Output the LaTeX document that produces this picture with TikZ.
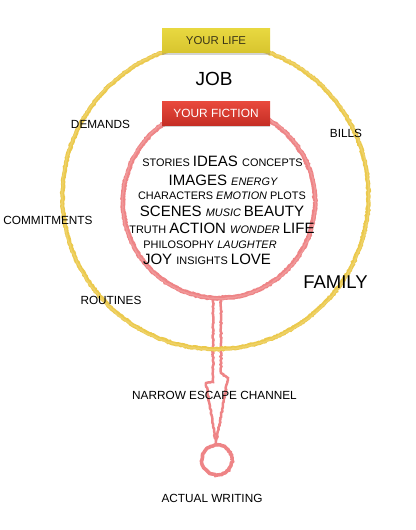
\documentclass[tikz,border=0pt]{standalone}
\usepackage{fontspec}
\setmainfont{Liberation Sans}
\usetikzlibrary{decorations.pathmorphing,shadows}
\definecolor{lifeyellow}{HTML}{EBC94C}
\definecolor{fictionred}{HTML}{EE8486}
\definecolor{boxyelT}{HTML}{E8D840}
\definecolor{boxyelB}{HTML}{D8C52F}
\definecolor{boxredT}{HTML}{E94A3D}
\definecolor{boxredB}{HTML}{C52E25}
\definecolor{boxtext}{HTML}{3A3518}
\newcommand{\smw}{\fontsize{10.9}{12}\selectfont\upshape}
\newcommand{\bgw}{\fontsize{15}{17}\selectfont\upshape}
\newcommand{\itw}{\fontsize{10.9}{12}\selectfont\itshape}
\begin{document}
\begin{tikzpicture}[x=1pt,y=-1pt,
  sketchy/.style={decorate,decoration={random steps,segment length=1.6pt,amplitude=0.55pt}},
  ring/.style={circle,inner sep=0pt,outer sep=0pt,sketchy},
  lbl/.style={font=\fontsize{11.8}{13}\selectfont,inner sep=0pt,anchor=base},
  cloud/.style={inner sep=0pt,anchor=base},
  tagbox/.style={minimum width=108pt,minimum height=24pt,inner sep=0pt,
    drop shadow={shadow xshift=0pt,shadow yshift=-2pt,opacity=0.35}},
  chan/.style={draw=fictionred,line width=2.5pt,line join=miter,sketchy}]
\useasboundingbox (0,0) rectangle (415,530);
\pgfmathsetseed{7}
% channel
\coordinate (c1) at (213,297);
\coordinate (c2) at (213,382);
\coordinate (c3) at (206,383);
\coordinate (tip) at (216,443);
\coordinate (c5) at (228,378);
\coordinate (c6) at (221,373);
\coordinate (c7) at (221,297);
\draw[chan] (c1) -- (c2) -- (c3) -- (tip) -- (c5) -- (c6) -- (c7);
\draw[chan,line width=1pt,opacity=0.6] (c1) -- (c2) -- (c3) -- (tip) -- (c5) -- (c6) -- (c7);
% rings
\node[ring,draw=lifeyellow,line width=4.2pt,minimum size=306pt] (life) at (215.5,196) {};
\node[ring,draw=lifeyellow!80!white,line width=1.5pt,minimum size=307pt,opacity=0.8] (life2) at (215.5,196) {};
\node[ring,draw=fictionred,line width=4.6pt,minimum size=192pt] (fiction) at (219,202) {};
\node[ring,draw=fictionred!80!white,line width=1.5pt,minimum size=193pt,opacity=0.8] (fiction2) at (219,202) {};
\node[ring,draw=fictionred,line width=3.6pt,minimum size=30pt] (writing) at (217,460) {};
% tags
\node[tagbox,top color=boxyelT,bottom color=boxyelB,text=boxtext,
  font=\fontsize{11.4}{13}\selectfont] (lifetag) at (216,40.5) {YOUR LIFE};
\node[tagbox,top color=boxredT,bottom color=boxredB,text=white,
  font=\fontsize{11.9}{13}\selectfont] (fictiontag) at (216,113) {YOUR FICTION};
% life words
\node[lbl,font=\fontsize{19}{21}\selectfont] (job) at (214,85) {JOB};
\node[lbl] (demands) at (100.5,128) {DEMANDS};
\node[lbl] (bills) at (346,137) {BILLS};
\node[lbl] (commit) at (48,224) {COMMITMENTS};
\node[lbl] (routines) at (111,304) {ROUTINES};
\node[lbl,font=\fontsize{18.5}{21}\selectfont] (family) at (335.5,288) {FAMILY};
\node[lbl] (escape) at (214.5,399) {NARROW ESCAPE CHANNEL};
\node[lbl] (actual) at (212,502) {ACTUAL WRITING};
% fiction cloud
\node[cloud] (w1) at (222.5,166) {\smw STORIES \bgw IDEAS \smw CONCEPTS};
\node[cloud] (w2) at (223,185) {\bgw IMAGES \itw ENERGY};
\node[cloud] (w3) at (222,199.5) {\smw CHARACTERS \itw EMOTION \smw PLOTS};
\node[cloud] (w4) at (222,216) {\bgw SCENES \itw MUSIC \bgw BEAUTY};
\node[cloud] (w5) at (222,233) {\smw TRUTH \bgw ACTION \itw WONDER \bgw LIFE};
\node[cloud] (w6) at (210,248) {\smw PHILOSOPHY \itw LAUGHTER};
\node[cloud] (w7) at (207,264) {\bgw JOY \smw INSIGHTS \bgw LOVE};
\end{tikzpicture}
\end{document}
